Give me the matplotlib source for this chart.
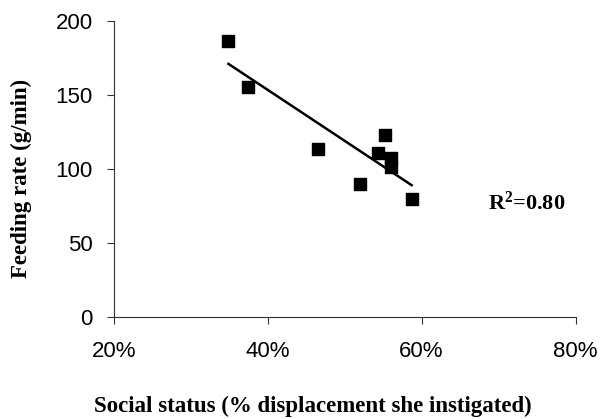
import numpy as np
import matplotlib.pyplot as plt
from matplotlib.ticker import FuncFormatter

plt.rcParams['mathtext.fontset'] = 'custom'
plt.rcParams['mathtext.bf'] = 'Liberation Serif:bold'
plt.rcParams['mathtext.rm'] = 'Liberation Serif:bold'

# Statut social (% déplacements initiés) et taux d'alimentation
social_status = [34.9, 37.5, 46.5, 52.0, 54.3, 55.3, 56.0, 56.0, 58.7]
feeding_rate = [186.5, 155.0, 113.5, 89.5, 110.5, 122.5, 107.0, 101.5, 80.0]
r2_label = r"$\mathbf{R^{2}}$=0.80"

fig = plt.figure(figsize=(6.02, 4.19), dpi=100)
ax = fig.add_axes([0.189, 0.243, 0.767, 0.708])

ax.scatter(social_status, feeding_rate, marker='s', s=64, color='black', zorder=3)

# Droite de régression
pente, origine = np.polyfit(social_status, feeding_rate, 1)
xs = np.array([min(social_status), max(social_status)])
ax.plot(xs, pente * xs + origine, color='black', lw=1.8)

ax.set_xlim(20, 80)
ax.set_ylim(0, 200)
ax.set_xticks([20, 40, 60, 80])
ax.set_yticks([0, 50, 100, 150, 200])
ax.xaxis.set_major_formatter(FuncFormatter(lambda v, p: f"{v:.0f}%"))

for s in ['top', 'right']:
    ax.spines[s].set_visible(False)
for s in ['left', 'bottom']:
    ax.spines[s].set_linewidth(0.8)
    ax.spines[s].set_color('#333333')

ax.tick_params(direction='out', length=5, width=0.8, color='#333333',
               labelsize=16, pad=10)
for lab in ax.get_xticklabels() + ax.get_yticklabels():
    lab.set_family('Liberation Sans')
ax.tick_params(axis='x', pad=12)

ax.text(73.6, 77, r2_label, fontsize=16, fontweight='bold', family='Liberation Serif',
        ha='center', va='center')

fig.text(313 / 602, 1 - 406 / 419, "Social status (% displacement she instigated)",
         fontsize=16.5, fontweight='bold', family='Liberation Serif', ha='center', va='center')
fig.text(21 / 602, 1 - 178 / 419, "Feeding rate (g/min)", rotation=90,
         fontsize=16.5, fontweight='bold', family='Liberation Serif', ha='center', va='center')

fig.savefig("out.png", dpi=100)
